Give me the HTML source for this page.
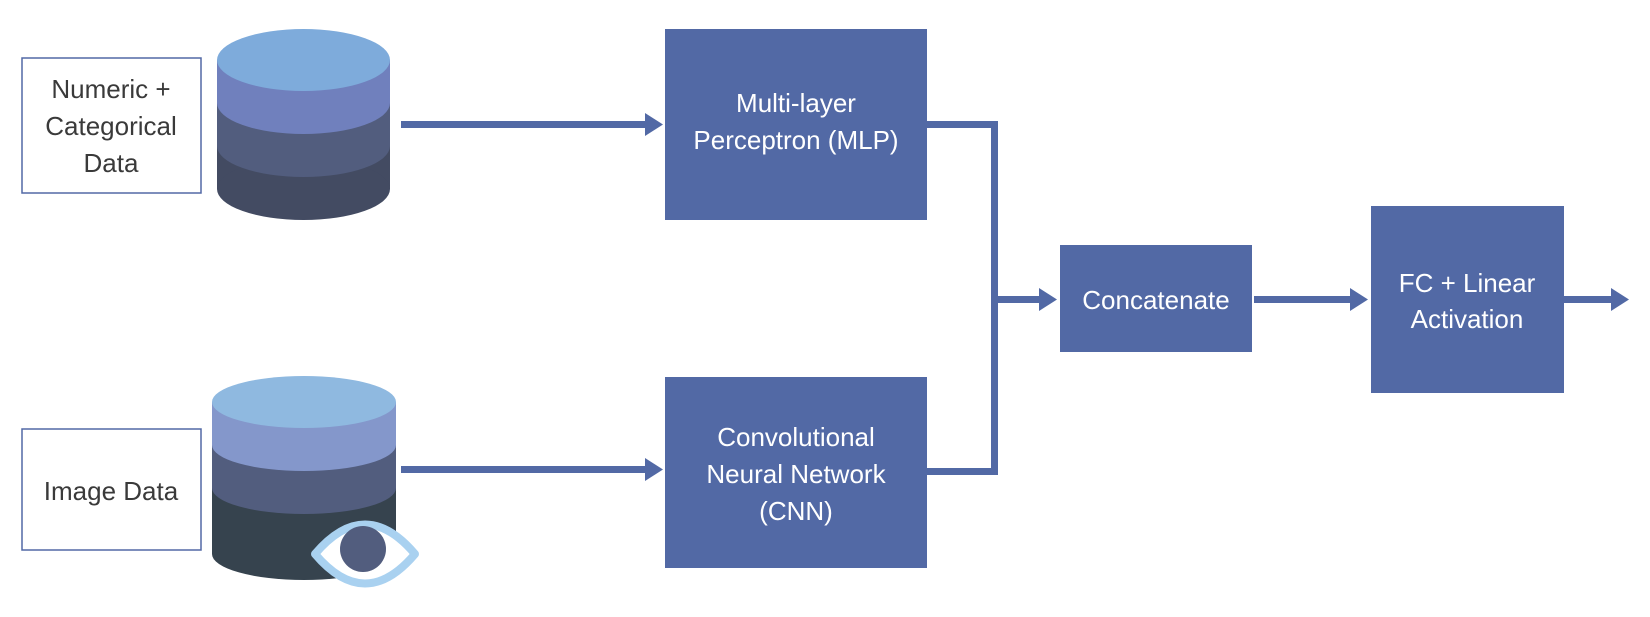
<!DOCTYPE html>
<html><head><meta charset="utf-8"><style>
html,body{margin:0;padding:0;background:#fff;}
svg text{font-family:"Liberation Sans",sans-serif;font-size:26px;}
</style></head><body>
<svg width="1650" height="612" viewBox="0 0 1650 612" xmlns="http://www.w3.org/2000/svg">
<rect x="22" y="58" width="179" height="135" fill="#fff" stroke="#5269a5" stroke-width="1.5"/>
<text x="111" y="98" text-anchor="middle" fill="#3a3a3a">Numeric +</text>
<text x="111" y="135" text-anchor="middle" fill="#3a3a3a">Categorical</text>
<text x="111" y="172" text-anchor="middle" fill="#3a3a3a">Data</text>
<rect x="22" y="429" width="179" height="121" fill="#fff" stroke="#5269a5" stroke-width="1.5"/>
<text x="111" y="500" text-anchor="middle" fill="#3a3a3a">Image Data</text>

<g>
<rect x="217" y="146" width="173" height="43" fill="#434b62"/>
<ellipse cx="303.5" cy="189" rx="86.5" ry="31" fill="#434b62"/>
<path d="M217 103 L217 146 A86.5 31 0 0 0 390 146 L390 103 Z" fill="#525d7e"/>
<path d="M217 60 L217 103 A86.5 31 0 0 0 390 103 L390 60 Z" fill="#7080bd"/>
<ellipse cx="303.5" cy="60" rx="86.5" ry="31" fill="#7eabdb"/>
</g>
<g>
<path d="M212 488 L212 554 A92 26 0 0 0 396 554 L396 488 Z" fill="#36434e"/>
<path d="M212 445 L212 488 A92 26 0 0 0 396 488 L396 445 Z" fill="#525d7e"/>
<path d="M212 402 L212 445 A92 26 0 0 0 396 445 L396 402 Z" fill="#8497cb"/>
<ellipse cx="304" cy="402" rx="92" ry="26" fill="#8fb9e0"/>
</g>
<path d="M315 554 Q365 495 415 554 Q365 613 315 554 Z" fill="#fff" stroke="#a9d1f0" stroke-width="8" stroke-linejoin="round"/>
<circle cx="363" cy="549" r="23" fill="#525d7e"/>

<rect x="665" y="29" width="262" height="191" fill="#5269a5"/>
<text x="796" y="112" text-anchor="middle" fill="#fff">Multi-layer</text>
<text x="796" y="149" text-anchor="middle" fill="#fff">Perceptron (MLP)</text>
<rect x="665" y="377" width="262" height="191" fill="#5269a5"/>
<text x="796" y="446" text-anchor="middle" fill="#fff">Convolutional</text>
<text x="796" y="483" text-anchor="middle" fill="#fff">Neural Network</text>
<text x="796" y="520" text-anchor="middle" fill="#fff">(CNN)</text>
<rect x="1060" y="245" width="192" height="107" fill="#5269a5"/>
<text x="1156" y="309" text-anchor="middle" fill="#fff">Concatenate</text>
<rect x="1371" y="206" width="193" height="187" fill="#5269a5"/>
<text x="1467" y="292" text-anchor="middle" fill="#fff">FC + Linear</text>
<text x="1467" y="328" text-anchor="middle" fill="#fff">Activation</text>

<g fill="#5269a5">
<rect x="401" y="121" width="246" height="7"/>
<polygon points="645,113 663,124.5 645,136"/>
<rect x="401" y="466" width="246" height="7"/>
<polygon points="645,458 663,469.5 645,481"/>
<rect x="927" y="121" width="71" height="7"/>
<rect x="927" y="468" width="71" height="7"/>
<rect x="991" y="121" width="7" height="354"/>
<rect x="998" y="296" width="43" height="7"/>
<polygon points="1039,288 1057,299.5 1039,311"/>
<rect x="1254" y="296" width="98" height="7"/>
<polygon points="1350,288 1368,299.5 1350,311"/>
<rect x="1564" y="296" width="49" height="7"/>
<polygon points="1611,288 1629,299.5 1611,311"/>
</g>
</svg>
</body></html>
